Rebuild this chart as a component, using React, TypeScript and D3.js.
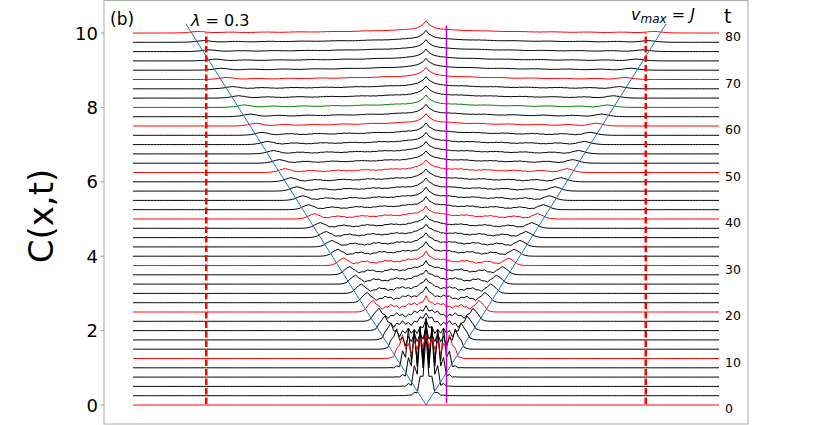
import React from "react";
import * as d3 from "d3";

// ---- data ----
const times = [0, 2, 4, 6, 8, 10, 12, 14, 16, 18, 20, 22, 24, 26, 28, 30, 32, 34, 36, 38, 40,
  42, 44, 46, 48, 50, 52, 54, 56, 58, 60, 62, 64, 66, 68, 70, 72, 74, 76, 78, 80];
// amplitude of the light-cone front bump for each time
const frontAmp = [0, 0.15, 0.25, 0.3, 0.33, 0.3, 0.27, 0.24, 0.21, 0.19, 0.17, 0.15, 0.14, 0.13, 0.12, 0.11, 0.1, 0.095, 0.09, 0.085, 0.08,
  0.075, 0.07, 0.066, 0.062, 0.058, 0.054, 0.05, 0.047, 0.044, 0.041, 0.038, 0.036, 0.034, 0.032, 0.03, 0.028, 0.026, 0.025, 0.024, 0.022];
// level inside the light cone
const innerLevel = [0, 1.1, 1.0, 0.85, 0.62, 0.3, 0.24, 0.19, 0.16, 0.14, 0.12, 0.1, 0.09, 0.085, 0.08, 0.07, 0.065, 0.06, 0.055, 0.05, 0.048,
  0.045, 0.042, 0.04, 0.038, 0.035, 0.033, 0.032, 0.03, 0.03, 0.028, 0.027, 0.026, 0.025, 0.024, 0.023, 0.022, 0.021, 0.02, 0.02, 0.02];
// site-to-site (staggered) oscillation amplitude
const staggerAmp = [0, 0.45, 0.6, 0.55, 0.45, 0.14, 0.1, 0.06, 0.04, 0.03, 0.022, 0.018, 0.015, 0.013, 0.012, 0.011, 0.01, 0.009, 0.008, 0.007, 0.007,
  0.006, 0.006, 0.005, 0.005, 0.005, 0.004, 0.004, 0.004, 0.004, 0.003, 0.003, 0.003, 0.003, 0.003, 0.002, 0.002, 0.002, 0.002, 0.002, 0.002];
// slow ripple amplitude inside the cone
const rippleAmp = [0, 0, 0, 0, 0, 0.06, 0.065, 0.065, 0.062, 0.06, 0.057, 0.054, 0.051, 0.048, 0.046, 0.044, 0.042, 0.04, 0.038, 0.036, 0.034,
  0.032, 0.03, 0.028, 0.027, 0.026, 0.024, 0.023, 0.022, 0.021, 0.02, 0.019, 0.018, 0.017, 0.016, 0.015, 0.014, 0.013, 0.012, 0.012, 0.011];
// central cusp and broad central hump
const cuspAmp = [0, 0.2, 0.2, 0.2, 0.2, 0.2, 0.2, 0.2, 0.2, 0.2, 0.2, 0.2, 0.2, 0.2, 0.2, 0.2, 0.2, 0.2, 0.2, 0.2, 0.2,
  0.2, 0.2, 0.2, 0.2, 0.2, 0.2, 0.2, 0.2, 0.2, 0.2, 0.2, 0.2, 0.2, 0.2, 0.2, 0.2, 0.2, 0.2, 0.2, 0.21];
const broadAmp = [0, 0, 0, 0, 0, 0.05, 0.06, 0.07, 0.08, 0.08, 0.09, 0.09, 0.09, 0.1, 0.1, 0.1, 0.1, 0.1, 0.1, 0.1, 0.1,
  0.1, 0.1, 0.1, 0.1, 0.1, 0.1, 0.1, 0.1, 0.1, 0.1, 0.1, 0.1, 0.1, 0.1, 0.1, 0.1, 0.1, 0.1, 0.1, 0.1];

const redTimes = [0, 10, 20, 30, 40, 50, 60, 70, 80];
const greenTimes = [64];
const yTicks = [0, 2, 4, 6, 8, 10];
const tTicks = [0, 10, 20, 30, 40, 50, 60, 70, 80];
const xSites = d3.range(-100, 101);
const coneEndT = 82;
const dashedSites = [-75, 75];
const markerSite = 7;
const offsetPerTime = 1 / 8;

// ---- layout ----
const W = 831, H = 425;
const frame = { left: 104, right: 748, top: 0.5, bottom: 424 };
const x = d3.scaleLinear().domain([-100, 100]).range([133, 719]);
const y = d3.scaleLinear().domain([0, 10]).range([405, 33]);

function profile(i: number) {
  const t = times[i];
  const off = t * offsetPerTime;
  return xSites.map((s) => {
    const a = Math.abs(s);
    if (t === 0) return [s, off] as [number, number];
    const mask = 1 / (1 + Math.exp((a - t + 0.5) / 0.9));
    const rel = Math.min(a / t, 1);
    const lam = 5 + t / 12;
    const depth = Math.max(t - a, 0);
    let v = innerLevel[i] * (1 - 0.4 * rel) * mask;
    v += broadAmp[i] * Math.exp(-a / 20) * mask;
    v += rippleAmp[i] * (0.3 + 0.7 * Math.exp(-depth / 14)) * Math.cos((2 * Math.PI * (t - 1.5 - a)) / lam) * mask;
    v += staggerAmp[i] * (s % 2 === 0 ? 1 : -1) * mask;
    const sig = 1.4 + 0.04 * t;
    v += frontAmp[i] * Math.exp(-(((a - (t - 1.5)) / sig) ** 2));
    v += cuspAmp[i] * Math.exp(-a / 1.8);
    return [s, off + v] as [number, number];
  });
}

const line = d3.line<[number, number]>().x((d) => x(d[0])).y((d) => y(d[1]));

function colorFor(t: number) {
  if (greenTimes.includes(t)) return "#008000";
  if (redTimes.includes(t)) return "#ff0000";
  return "#000000";
}

export default function App() {
  const font = "DejaVu Sans, sans-serif";
  const coneTop = coneEndT * offsetPerTime;
  return (
    <svg width={W} height={H} style={{ position: "absolute", left: 0, top: 0, background: "#fff" }}>
      {times.map((t, i) => (
        <path key={t} d={line(profile(i)) || ""} fill="none" stroke={colorFor(t)} strokeWidth={1} />
      ))}
      {/* light cone */}
      <line x1={x(0)} y1={y(0)} x2={x(-coneEndT)} y2={y(coneTop)} stroke="#1f77b4" strokeWidth={1} />
      <line x1={x(0)} y1={y(0)} x2={x(coneEndT)} y2={y(coneTop)} stroke="#1f77b4" strokeWidth={1} />
      {dashedSites.map((s) => (
        <line key={s} x1={x(s)} x2={x(s)} y1={y(0) - 1} y2={y(10)} stroke="#ff0000" strokeWidth={2.5} strokeDasharray="6.5,3" />
      ))}
      <line x1={x(markerSite)} x2={x(markerSite)} y1={y(0.05)} y2={y(10.2)} stroke="#c000c0" strokeWidth={1.5} />
      {/* frame */}
      <rect x={frame.left} y={frame.top} width={frame.right - frame.left} height={frame.bottom - frame.top} fill="none" stroke="#aaa" strokeWidth={1} />
      {yTicks.map((v) => (
        <g key={v}>
          <line x1={frame.left - 3.5} x2={frame.left} y1={y(v)} y2={y(v)} stroke="#888" strokeWidth={0.8} />
          <text x={98} y={y(v) + 6.5} textAnchor="end" fontFamily={font} fontSize={18}>{v}</text>
        </g>
      ))}
      {tTicks.map((v) => (
        <text key={v} x={725} y={y(v * offsetPerTime) + 8} fontFamily={font} fontSize={12.5}>{v}</text>
      ))}
      <text x={724} y={23} fontFamily={font} fontSize={19}>t</text>
      <text x={110} y={25} fontFamily={font} fontSize={17}>(b)</text>
      <text x={191} y={26} fontFamily={font} fontSize={16}>
        <tspan fontStyle="italic">λ</tspan> = 0.3
      </text>
      <text x={631} y={20} fontFamily={font} fontSize={16}>
        <tspan fontStyle="italic">v</tspan>
        <tspan fontStyle="italic" fontSize={12} dy={3}>max</tspan>
        <tspan dy={-3}> = </tspan>
        <tspan fontStyle="italic">J</tspan>
      </text>
      <text transform={`translate(53,${216}) rotate(-90)`} textAnchor="middle" fontFamily={font} fontSize={34}>C(x,t)</text>
    </svg>
  );
}
